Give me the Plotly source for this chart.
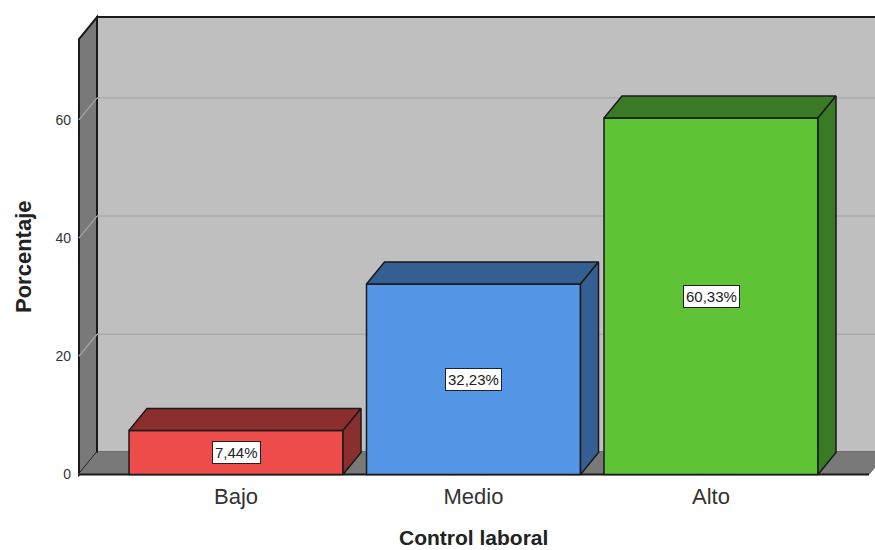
import plotly.graph_objects as go

categories = ["Bajo", "Medio", "Alto"]
percentages = [7.44, 32.23, 60.33]
positions = [1, 2, 3]
y_ticks = [0, 20, 40, 60]

front_colors = ["#EE4B4B", "#5495E6", "#5EC436"]
shade_colors = ["#8B2E2E", "#355F93", "#3B7A25"]
EDGE = "#1a1a1a"
WALL = "#BFBFBF"
SIDE = "#797979"
GRID = "#ABABAB"

# Data units per pixel drive the oblique projection of the box
PX_X = 237.5
PX_Y = 5.91
DEPTH_X = 18 / PX_X
DEPTH_Y = 22 / PX_Y
BAR_W = 214 / PX_X

X0 = 1 - (236 - 79) / PX_X      # front-left corner of the box
X1 = 1 + (869 - 236) / PX_X     # front-right corner of the box
TOP = (474.5 - 39) / PX_Y       # height of the front edge of the box

ML, MT, MB = 74, 12, 72
W, H = 875, 550
x_range = [1 - (236 - ML) / PX_X, 1 + (W - 236) / PX_X]
y_range = [(474.5 - (H - MB)) / PX_Y, (474.5 - MT) / PX_Y]


def poly(xs, ys):
    pts = [f"{x},{y}" for x, y in zip(xs, ys)]
    return "M" + "L".join(pts) + "Z"


shapes = [
    # back wall
    dict(type="path", layer="below", fillcolor=WALL, line=dict(color=EDGE, width=2),
         path=poly([X0 + DEPTH_X, X1 + DEPTH_X, X1 + DEPTH_X, X0 + DEPTH_X],
                   [DEPTH_Y, DEPTH_Y, TOP + DEPTH_Y, TOP + DEPTH_Y])),
    # left wall
    dict(type="path", layer="below", fillcolor=SIDE, line=dict(color=EDGE, width=2),
         path=poly([X0, X0 + DEPTH_X, X0 + DEPTH_X, X0],
                   [0, DEPTH_Y, TOP + DEPTH_Y, TOP])),
    # floor
    dict(type="path", layer="below", fillcolor=SIDE, line=dict(color=SIDE, width=1),
         path=poly([X0, X1, X1 + DEPTH_X, X0 + DEPTH_X], [0, 0, DEPTH_Y, DEPTH_Y])),
    # front edge of the floor
    dict(type="line", layer="below", x0=X0, x1=X1, y0=0, y1=0,
         line=dict(color=EDGE, width=2)),
    # redraw of the corner between the walls
    dict(type="line", layer="below", x0=X0 + DEPTH_X, x1=X0 + DEPTH_X, y0=DEPTH_Y, y1=TOP + DEPTH_Y,
         line=dict(color=EDGE, width=2)),
]
for t in y_ticks[1:]:
    shapes.append(dict(type="line", layer="below", x0=X0 + DEPTH_X, x1=X1 + DEPTH_X,
                       y0=t + DEPTH_Y, y1=t + DEPTH_Y, line=dict(color=GRID, width=1.5)))
    shapes.append(dict(type="line", layer="below", x0=X0, x1=X0 + DEPTH_X,
                       y0=t, y1=t + DEPTH_Y, line=dict(color="#A0A0A0", width=1.5)))

fig = go.Figure()

# Front faces of the bars
fig.add_trace(go.Bar(
    x=positions, y=percentages, width=BAR_W,
    marker=dict(color=front_colors, line=dict(color=EDGE, width=1.5)),
    hoverinfo="skip", showlegend=False,
))

# Top and right faces, projected from each bar's value
for xc, v, shade in zip(positions, percentages, shade_colors):
    left, right = xc - BAR_W / 2, xc + BAR_W / 2
    fig.add_trace(go.Scatter(
        x=[left, right, right + DEPTH_X, left + DEPTH_X, left],
        y=[v, v, v + DEPTH_Y, v + DEPTH_Y, v],
        mode="lines", fill="toself", fillcolor=shade,
        line=dict(color=EDGE, width=1.5), hoverinfo="skip", showlegend=False,
    ))
    fig.add_trace(go.Scatter(
        x=[right, right + DEPTH_X, right + DEPTH_X, right, right],
        y=[0, DEPTH_Y, v + DEPTH_Y, v, 0],
        mode="lines", fill="toself", fillcolor=shade,
        line=dict(color=EDGE, width=1.5), hoverinfo="skip", showlegend=False,
    ))

# Value labels in the middle of each bar
annotations = [
    dict(x=xc, y=v / 2, xref="x", yref="y", text=f"{v:.2f}%".replace(".", ","),
         showarrow=False, bgcolor="white", bordercolor="#222222", borderwidth=1, borderpad=2,
         font=dict(family="Liberation Sans", size=15, color="#222222"))
    for xc, v in zip(positions, percentages)
]
# Axis titles, placed relative to the plot area
annotations += [
    dict(x=(473 - ML) / (W - ML), y=(H - MB - 537) / (H - MB - MT),
         xref="paper", yref="paper", xanchor="center", yanchor="middle",
         text="<b>Control laboral</b>", showarrow=False,
         font=dict(family="Liberation Sans", size=21, color="#222222")),
    dict(x=(23 - ML) / (W - ML), y=(H - MB - 257) / (H - MB - MT),
         xref="paper", yref="paper", xanchor="center", yanchor="middle",
         text="<b>Porcentaje</b>", textangle=-90, showarrow=False,
         font=dict(family="Liberation Sans", size=22, color="#222222")),
]

fig.update_layout(
    width=W, height=H,
    margin=dict(l=ML, r=0, t=MT, b=MB),
    paper_bgcolor="white", plot_bgcolor="white",
    shapes=shapes, annotations=annotations,
    xaxis=dict(range=x_range, tickmode="array", tickvals=positions, ticktext=categories,
               showgrid=False, zeroline=False, showline=False, ticks="", ticklabelstandoff=3,
               tickfont=dict(family="Liberation Sans", size=22, color="#333333")),
    yaxis=dict(range=y_range, tickmode="array", tickvals=y_ticks,
               showgrid=False, zeroline=False, showline=False,
               ticks="", ticklabelstandoff=2,
               tickfont=dict(family="Liberation Sans", size=14, color="#333333")),
)

fig.write_html("out.html")
